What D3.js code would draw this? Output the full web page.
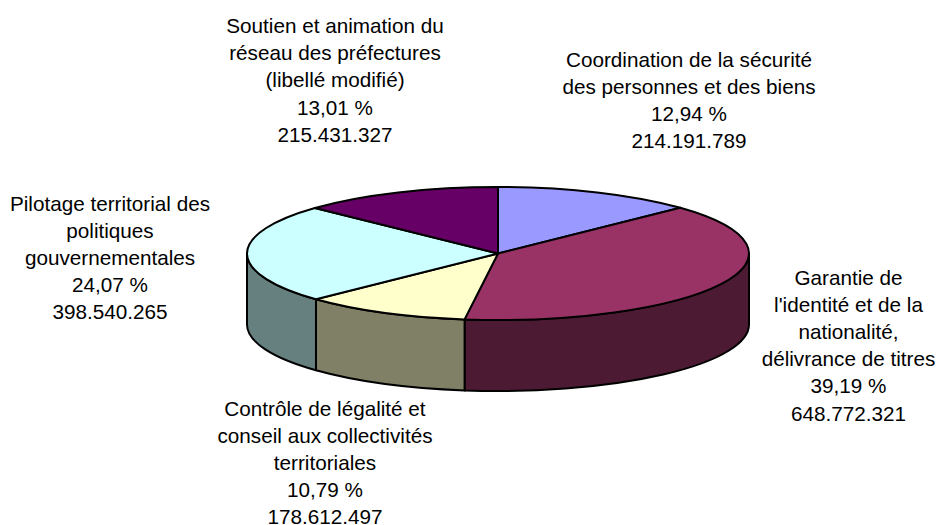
<!DOCTYPE html>
<html lang="fr">
<head>
  <meta charset="UTF-8">
  <title>Répartition des crédits</title>
  <script src="https://d3js.org/d3.v7.min.js"></script>
  <style>
    html, body { margin: 0; padding: 0; background: #fff; }
    svg { display: block; }
    text { font-family: "Liberation Sans", Arial, sans-serif; font-size: 20.7px; fill: #000; }
  </style>
</head>
<body>
  <svg id="chart"></svg>
  <script>
    const categories = [
      ["Coordination de la sécurité", "des personnes et des biens"],
      ["Garantie de", "l'identité et de la", "nationalité,", "délivrance de titres"],
      ["Contrôle de légalité et", "conseil aux collectivités", "territoriales"],
      ["Pilotage territorial des", "politiques", "gouvernementales"],
      ["Soutien et animation du", "réseau des préfectures", "(libellé modifié)"]
    ];
    const percents = ["12,94 %", "39,19 %", "10,79 %", "24,07 %", "13,01 %"];
    const amounts = [214191789, 648772321, 178612497, 398540265, 215431327];
    const topColors = ["#9999ff", "#993366", "#ffffcc", "#ccffff", "#660066"];
    const sideColors = ["#4d4d80", "#4d1a33", "#808066", "#668080", "#330033"];

    const width = 939, height = 525;
    const cx = 498, cy = 253.5, rx = 251, ry = 66.5, depth = 71;
    // centre x and first baseline of each label
    const labelPos = [[689, 66.5], [848.5, 284.5], [325, 415.5], [110, 210.5], [335, 33]];
    const lineHeight = 27.2;

    const svg = d3.select("#chart").attr("width", width).attr("height", height);

    const x = d3.scaleLinear().domain([-1, 1]).range([cx - rx, cx + rx]);
    const y = d3.scaleLinear().domain([-1, 1]).range([cy - ry, cy + ry]);

    const pie = d3.pie().sort(null);
    const arcs = pie(amounts);

    const fmt = d3.formatLocale({ decimal: ",", thousands: ".", grouping: [3], currency: ["", ""] }).format(",d");

    // point on the rim, angle clockwise from the top
    const rim = (a, dz) => [x(Math.sin(a)), y(-Math.cos(a)) + dz];

    function wallPath(a0, a1) {
      const p0 = rim(a0, 0), p1 = rim(a1, 0), p2 = rim(a1, depth), p3 = rim(a0, depth);
      return `M${p0}A${rx},${ry} 0 0 1 ${p1}L${p2}A${rx},${ry} 0 0 0 ${p3}Z`;
    }

    // side walls, only the front half of the disc shows
    const front = [Math.PI / 2, Math.PI * 3 / 2];
    const walls = svg.append("g").attr("stroke", "#000").attr("stroke-width", 2).attr("stroke-linejoin", "round");
    arcs.forEach((d, i) => {
      const a0 = Math.max(d.startAngle, front[0]), a1 = Math.min(d.endAngle, front[1]);
      if (a1 <= a0) return;
      walls.append("path").attr("d", wallPath(a0, a1)).attr("fill", sideColors[i]);
    });

    // top face: plain d3 arcs squashed into an ellipse
    const arc = d3.arc().innerRadius(0).outerRadius(rx);
    svg.append("g")
      .attr("transform", `translate(${cx},${cy}) scale(1,${ry / rx})`)
      .selectAll("path")
      .data(arcs)
      .join("path")
      .attr("d", arc)
      .attr("fill", (d, i) => topColors[i])
      .attr("stroke", "#000")
      .attr("stroke-width", 2)
      .attr("stroke-linejoin", "round")
      .attr("vector-effect", "non-scaling-stroke");

    // labels
    const labels = svg.append("g").attr("text-anchor", "middle");
    categories.forEach((lines, i) => {
      const all = lines.concat([percents[i], fmt(amounts[i])]);
      const t = labels.append("text").attr("x", labelPos[i][0]).attr("y", labelPos[i][1]);
      t.selectAll("tspan")
        .data(all)
        .join("tspan")
        .attr("x", labelPos[i][0])
        .attr("y", (d, k) => labelPos[i][1] + k * lineHeight)
        .text(d => d);
    });
  </script>
</body>
</html>
